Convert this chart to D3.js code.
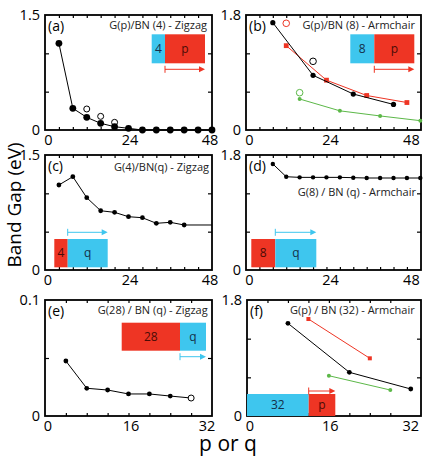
<!DOCTYPE html>
<html>
<head>
<meta charset="utf-8">
<script src="https://cdn.jsdelivr.net/npm/d3@7"></script>
<style>
  body { margin: 0; background: #fff; }
  svg { display: block; font-family: "Open Sans", sans-serif; }
</style>
</head>
<body>
<div id="chart"></div>
<script>
// (a) G(p)/BN(4) zigzag
const aP = [4, 8, 12, 16, 20, 24, 28, 32, 36, 40, 44, 48]
const aGap = [1.13, 0.283, 0.165, 0.087, 0.043, 0.022, 0, 0, 0, 0, 0, 0]
const aOpenP = [12, 16, 20]
const aOpenGap = [0.274, 0.178, 0.10]

// (b) G(p)/BN(8) armchair, three families
const bBlackP = [8, 20, 32, 44]
const bBlackGap = [1.68, 0.856, 0.563, 0.40]
const bRedP = [12, 24, 36, 48]
const bRedGap = [1.32, 0.78, 0.54, 0.43]
const bGreenP = [16, 28, 40, 52]
const bGreenGap = [0.485, 0.30, 0.22, 0.146]
const bOpenBlack = [[20, 1.075]]
const bOpenRed = [[12, 1.67]]
const bOpenGreen = [[16, 0.584]]

// (c) G(4)/BN(q) zigzag
const cQ = [4, 8, 12, 16, 20, 24, 28, 32, 36, 40]
const cGap = [1.109, 1.217, 0.943, 0.773, 0.752, 0.695, 0.682, 0.609, 0.622, 0.587]
const cTailQ = [40, 48]
const cTailGap = [0.587, 0.587]

// (d) G(8)/BN(q) armchair
const dQ = [8, 12, 16, 20, 24, 28, 32, 36, 40, 44, 48, 52]
const dGap = [1.66, 1.46, 1.45, 1.45, 1.45, 1.45, 1.445, 1.44, 1.44, 1.44, 1.44, 1.44]

// (e) G(28)/BN(q) zigzag
const eQ = [4, 8, 12, 16, 20, 24, 28]
const eGap = [0.0474, 0.0239, 0.0224, 0.019, 0.019, 0.0172, 0.0155]
const eOpen = [[28, 0.0155]]

// (f) G(p)/BN(32) armchair
const fBlackP = [8, 20, 32]
const fBlackGap = [1.438, 0.678, 0.419]
const fRedP = [12, 24]
const fRedGap = [1.505, 0.895]
const fGreenP = [16, 28]
const fGreenGap = [0.625, 0.403]

const ticksX48 = [0, 24, 48]
const ticksX32 = [0, 16, 32]

const RED = '#ee3524', BLUE = '#3ec6ee', GREEN = '#5cb848'

const svg = d3.select('#chart').append('svg')
  .attr('width', 424)
  .attr('height', 457)
  .style('background-color', '#fff')

function zip(xs, ys) { return xs.map((x, i) => [x, ys[i]]) }

function panel(o) {
  const x = d3.scaleLinear().domain(o.xDom).range([o.l, o.r])
  const y = d3.scaleLinear().domain([0, o.yMax]).range([o.b, o.t])
  const g = svg.append('g')

  // minor ticks, inward
  g.append('g').attr('transform', `translate(0,${o.b})`)
    .call(d3.axisBottom(x).tickValues(o.xMinor).tickSize(-3).tickFormat(''))
  g.append('g').attr('transform', `translate(0,${o.t})`)
    .call(d3.axisTop(x).tickValues(o.xMinor).tickSize(-3).tickFormat(''))
  g.append('g').attr('transform', `translate(${o.l},0)`)
    .call(d3.axisLeft(y).tickValues(o.yMinor).tickSize(-4).tickFormat(''))
  g.append('g').attr('transform', `translate(${o.r},0)`)
    .call(d3.axisRight(y).tickValues(o.yMinor).tickSize(-4).tickFormat(''))
  g.selectAll('.domain').remove()
  g.selectAll('.tick line').attr('stroke', '#000').attr('stroke-width', 1.2)

  // tick labels (the original labels sit a little off their ticks)
  g.selectAll('.xl').data(o.xTicks).enter().append('text')
    .attr('x', (d, i) => x(d) + o.dx[i]).attr('y', o.b + 14.5)
    .attr('text-anchor', 'middle').attr('font-size', 14.5)
    .text(d => d)
  g.selectAll('.yl').data([0, o.yMax]).enter().append('text')
    .attr('x', o.l - 5).attr('y', d => y(d) + 5)
    .attr('text-anchor', 'end').attr('font-size', 14.5)
    .text(d => d)

  g.append('rect')
    .attr('x', o.l).attr('y', o.t)
    .attr('width', o.r - o.l).attr('height', o.b - o.t)
    .attr('fill', 'none').attr('stroke', '#000').attr('stroke-width', 1.8)

  // inset sketch
  o.boxes.forEach(bx => {
    g.append('rect').attr('x', bx[0]).attr('y', bx[2])
      .attr('width', bx[1] - bx[0]).attr('height', bx[3] - bx[2])
      .attr('fill', bx[4])
    g.append('text').attr('x', (bx[0] + bx[1]) / 2).attr('y', (bx[2] + bx[3]) / 2 + 4)
      .attr('text-anchor', 'middle').attr('font-size', 12)
      .attr('fill', bx[4] === RED ? '#4a0c06' : '#14304a')
      .text(bx[5])
  })
  const a = o.arrow
  g.append('line').attr('x1', a[0]).attr('x2', a[1] - 4).attr('y1', a[2]).attr('y2', a[2])
    .attr('stroke', a[3]).attr('stroke-width', 1)
  g.append('line').attr('x1', a[0]).attr('x2', a[0]).attr('y1', a[2] - 3.5).attr('y2', a[2] + 3.5)
    .attr('stroke', a[3]).attr('stroke-width', 1)
  g.append('path').attr('d', `M${a[1]},${a[2]} l-6,-3 l0,6 z`).attr('fill', a[3])

  g.append('text').attr('x', o.l + 3).attr('y', o.t + 16)
    .attr('font-size', 14).text(o.letter)
  g.append('text').attr('x', o.titleX).attr('y', o.titleY)
    .attr('text-anchor', 'end').attr('font-size', 11).attr('fill', '#222')
    .text(o.title)

  return { g, x, y }
}

function series(p, pts, color, r, shape, lw) {
  const line = d3.line().x(d => p.x(d[0])).y(d => p.y(d[1]))
  p.g.append('path').datum(pts).attr('d', line)
    .attr('fill', 'none').attr('stroke', color).attr('stroke-width', lw || 1)
  if (shape === 'square') {
    p.g.selectAll(null).data(pts).enter().append('rect')
      .attr('x', d => p.x(d[0]) - r).attr('y', d => p.y(d[1]) - r)
      .attr('width', 2 * r).attr('height', 2 * r).attr('fill', color)
  } else if (shape) {
    p.g.selectAll(null).data(pts).enter().append('circle')
      .attr('cx', d => p.x(d[0])).attr('cy', d => p.y(d[1]))
      .attr('r', r).attr('fill', color)
  }
}

function open(p, pts, color, r) {
  p.g.selectAll(null).data(pts).enter().append('circle')
    .attr('cx', d => p.x(d[0])).attr('cy', d => p.y(d[1]))
    .attr('r', r).attr('fill', '#fff').attr('stroke', color).attr('stroke-width', 1)
}

const minor4_48 = d3.range(4, 48, 4)
const minor4_52 = d3.range(4, 52, 4)
const minor4_32 = d3.range(4, 32, 4)

// (a)
const pa = panel({ l: 45, r: 212, t: 15, b: 130, xDom: [0, 48], yMax: 1.5,
  xTicks: ticksX48, dx: [3.5, 1.5, -2], xMinor: minor4_48, yMinor: [0.5, 1.0],
  letter: '(a)', title: 'G(p)/BN (4) - Zigzag', titleX: 207, titleY: 29,
  boxes: [[151.7, 165, 34.3, 63.3, BLUE, '4'], [165, 205, 34.3, 63.3, RED, 'p']],
  arrow: [165, 205, 69.3, RED] })
open(pa, zip(aOpenP, aOpenGap), '#000', 3)
series(pa, zip(aP, aGap), '#000', 3.4, 'circle')

// (b)
const pb = panel({ l: 246, r: 421, t: 15, b: 130, xDom: [0, 52.2], yMax: 1.8,
  xTicks: ticksX48, dx: [3.5, 4, 4.5], xMinor: minor4_52, yMinor: [0.6, 1.2],
  letter: '(b)', title: 'G(p)/BN (8) - Armchair', titleX: 415, titleY: 29,
  boxes: [[350.3, 374.3, 34.3, 63.3, BLUE, '8'], [374.3, 414.3, 34.3, 63.3, RED, 'p']],
  arrow: [374.3, 414.3, 69.3, RED] })
series(pb, zip(bGreenP, bGreenGap), GREEN, 2, 'circle')
series(pb, zip(bRedP, bRedGap), RED, 2.4, 'square')
series(pb, zip(bBlackP, bBlackGap), '#000', 2.6, 'circle')
open(pb, bOpenBlack, '#000', 3.3)
open(pb, bOpenRed, RED, 3.3)
open(pb, bOpenGreen, GREEN, 3.3)

// (c)
const pc = panel({ l: 45, r: 212, t: 155, b: 270, xDom: [0, 48], yMax: 1.5,
  xTicks: ticksX48, dx: [3, 1.5, -2], xMinor: minor4_48, yMinor: [0.5, 1.0],
  letter: '(c)', title: 'G(4)/BN(q) - Zigzag', titleX: 209, titleY: 171,
  boxes: [[54.3, 67.7, 239, 267.3, RED, '4'], [67.7, 107.7, 239, 267.3, BLUE, 'q']],
  arrow: [67.7, 107.7, 232.3, BLUE] })
series(pc, zip(cTailQ, cTailGap), '#000', 0, null)
series(pc, zip(cQ, cGap), '#000', 2.4, 'circle')

// (d)
const pd = panel({ l: 246, r: 421, t: 155, b: 270, xDom: [0, 52.2], yMax: 1.8,
  xTicks: ticksX48, dx: [3.5, 4, 4.5], xMinor: minor4_52, yMinor: [0.6, 1.2],
  letter: '(d)', title: 'G(8) / BN (q) - Armchair', titleX: 416, titleY: 196,
  boxes: [[251.3, 275.3, 239, 267.3, RED, '8'], [275.3, 316.3, 239, 267.3, BLUE, 'q']],
  arrow: [275.3, 316.3, 232.3, BLUE] })
series(pd, zip(dQ, dGap), '#000', 2.2, 'circle')

// (e)
const pe = panel({ l: 45, r: 212, t: 300, b: 416, xDom: [0, 32], yMax: 0.1,
  xTicks: ticksX32, dx: [3, 2.5, -5], xMinor: minor4_32, yMinor: [0.05],
  letter: '(e)', title: 'G(28) / BN (q) - Zigzag', titleX: 207.7, titleY: 314.3,
  boxes: [[121.7, 180, 322.7, 350.7, RED, '28'], [180, 206, 322.7, 350.7, BLUE, 'q']],
  arrow: [180, 206, 356.7, BLUE] })
series(pe, zip(eQ.slice(0, 6), eGap.slice(0, 6)), '#000', 2.4, 'circle')
series(pe, zip(eQ.slice(5), eGap.slice(5)), '#000', 0, null)
open(pe, eOpen, '#000', 3)

// (f)
const pf = panel({ l: 247, r: 421, t: 300, b: 416, xDom: [0, 34], yMax: 1.8,
  xTicks: ticksX32, dx: [3, 1.5, 0], xMinor: minor4_32, yMinor: [0.6, 1.2],
  letter: '(f)', title: 'G(p) / BN (32) - Armchair', titleX: 414.7, titleY: 314.3,
  boxes: [[247, 308.7, 394, 416, BLUE, '32'], [308.7, 335.3, 394, 416, RED, 'p']],
  arrow: [308.7, 335.3, 391, RED] })
series(pf, zip(fRedP, fRedGap), RED, 2, 'square')
series(pf, zip(fGreenP, fGreenGap), GREEN, 2, 'circle')
series(pf, zip(fBlackP, fBlackGap), '#000', 2.4, 'circle')

// axis titles
svg.append('text')
  .attr('transform', 'translate(20.5,205) rotate(-90)')
  .attr('text-anchor', 'middle').attr('font-size', 19)
  .text('Band Gap (eV)')
svg.append('text')
  .attr('x', 228).attr('y', 451)
  .attr('text-anchor', 'middle').attr('font-size', 21)
  .text('p or q')
</script>
</body>
</html>
